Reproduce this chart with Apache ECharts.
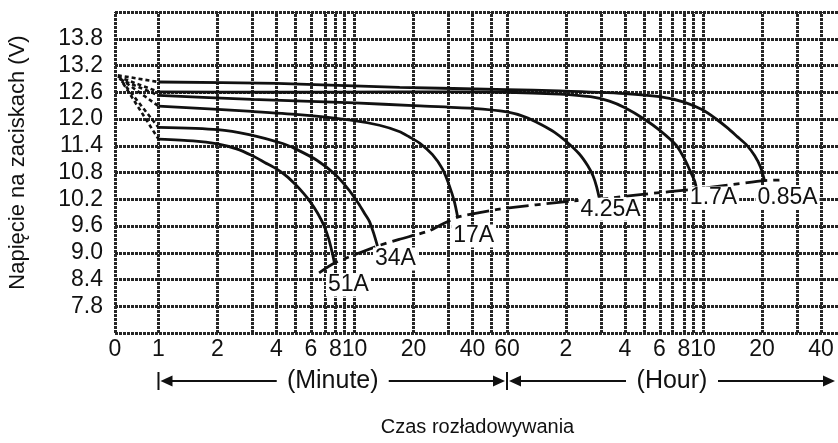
<!DOCTYPE html>
<html>
<head>
<meta charset="utf-8">
<script src="https://cdn.jsdelivr.net/npm/echarts@6/dist/echarts.min.js"></script>
<style>
  html, body { margin: 0; padding: 0; background: #ffffff; }
  #chart { width: 838px; height: 443px; }
</style>
</head>
<body>
<div id="chart"></div>
<script>
// Discharge curves of a 12 V battery: time in minutes, terminal voltage in volts.
const time51A = [1, 1.5, 2, 2.5, 3, 3.5, 4, 4.5, 5, 5.5, 6, 6.5, 7, 7.4, 7.7, 7.9];
const volt51A = [11.55, 11.51, 11.44, 11.33, 11.18, 11.02, 10.88, 10.72, 10.53, 10.33, 10.12, 9.88, 9.6, 9.3, 9.0, 8.77];

const time34A = [1, 2, 2.9, 4.3, 5, 6.4, 8, 9.4, 10.5, 11.3, 11.9, 12.5, 13.1];
const volt34A = [11.81, 11.76, 11.65, 11.45, 11.33, 11.08, 10.75, 10.4, 10.1, 9.87, 9.71, 9.45, 9.15];

const time17A = [1, 3, 5.2, 9.4, 13.4, 16.9, 19, 21.5, 25, 28.1, 30.5, 32.4, 33.6];
const volt17A = [12.29, 12.17, 12.1, 11.98, 11.86, 11.72, 11.6, 11.46, 11.2, 10.88, 10.5, 10.13, 9.8];

const time4_25A = [1, 3, 10, 20, 40, 60, 75, 90, 105, 120, 140, 155, 165, 172, 178];
const volt4_25A = [12.53, 12.44, 12.36, 12.3, 12.24, 12.16, 12.04, 11.87, 11.7, 11.5, 11.22, 10.95, 10.72, 10.48, 10.2];

const time1_7A = [1, 4, 17, 60, 111, 160, 200, 240, 300, 360, 440, 490, 520, 545, 556];
const volt1_7A = [12.61, 12.6, 12.61, 12.6, 12.56, 12.5, 12.4, 12.25, 12.0, 11.75, 11.4, 11.05, 10.8, 10.6, 10.43];

const time0_85A = [1, 4, 17, 60, 111, 240, 360, 480, 600, 700, 800, 900, 1000, 1100, 1180, 1236];
const volt0_85A = [12.83, 12.8, 12.71, 12.66, 12.63, 12.57, 12.5, 12.38, 12.2, 12.0, 11.8, 11.6, 11.42, 11.18, 10.92, 10.62];

// Initial voltage dip before the first minute (one entry per curve, same order as currentNames)
const currentNames = ['51A', '34A', '17A', '4.25A', '1.7A', '0.85A'];
const surgeTime = [0.66, 0.65, 0.64, 0.63, 0.62, 0.62];
const surgeVolt = [12.8, 12.85, 12.9, 12.9, 12.95, 12.98];

// Final discharge voltage line
const cutoffTime = [6.6, 7.9, 13.1, 16.9, 24, 28, 33.6, 55, 129, 178, 295, 556, 1236, 1527];
const cutoffVolt = [8.55, 8.77, 9.15, 9.3, 9.49, 9.64, 9.8, 9.98, 10.16, 10.2, 10.31, 10.43, 10.62, 10.63];

// Time axis (minutes, logarithmic) grid and labels
const gridMinutes = [0.6, 1, 2, 3, 4, 5, 6, 7, 8, 9, 10, 20, 30, 40, 50, 60,
                     120, 180, 240, 300, 360, 420, 480, 540, 600, 1200, 1800, 2400];
const tickMinutes = [0.6, 1, 2, 4, 6, 8, 10, 20, 40, 60, 120, 240, 360, 480, 600, 1200, 2400];
const tickLabels  = ['0', '1', '2', '4', '6', '8', '10', '20', '40', '60', '2', '4', '6', '8', '10', '20', '40'];
const timeMin = 0.6, timeMax = 3000;

// Voltage axis
const voltMin = 7.2, voltMax = 14.4, voltStep = 0.6;

const FONT = '"Liberation Sans", Arial, Helvetica, sans-serif';
const INK = '#111111';
const GRID_STYLE = { color: '#262626', width: 3, type: [3, 1], opacity: 1 };
const lg = Math.log10;

const curves = [
  [time51A, volt51A], [time34A, volt34A], [time17A, volt17A],
  [time4_25A, volt4_25A], [time1_7A, volt1_7A], [time0_85A, volt0_85A]
];
const toPoints = (ts, vs) => ts.map((t, i) => [lg(t), vs[i]]);

// label offsets (px) from the end of each curve
const labelOffsets = [[14, 22], [18, 13], [16, 19], [11, 10], [17, 9], [23, 17]];

const series = [];

// vertical grid lines on the log time axis
series.push({
  type: 'line', name: 'grid', data: [], z: 1, silent: true,
  markLine: {
    silent: true, symbol: ['none', 'none'], animation: false,
    label: { show: false },
    lineStyle: GRID_STYLE,
    data: gridMinutes.map(m => ({ xAxis: lg(m) }))
  }
});

curves.forEach(([ts, vs], i) => {
  series.push({
    type: 'line', name: currentNames[i], z: 5,
    data: toPoints(ts, vs),
    showSymbol: false, symbol: 'none', smooth: 0.25,
    lineStyle: { color: INK, width: 2.8 },
    animation: false
  });
  series.push({
    type: 'line', name: currentNames[i] + '-start', z: 5,
    data: [[lg(surgeTime[i]), surgeVolt[i]], [lg(ts[0]), vs[0]]],
    showSymbol: false, symbol: 'none',
    lineStyle: { color: INK, width: 2.6, type: [4, 3] },
    animation: false
  });
});

series.push({
  type: 'line', name: 'cutoff', z: 6,
  data: toPoints(cutoffTime, cutoffVolt),
  showSymbol: false, symbol: 'none', smooth: 0.2,
  lineStyle: { color: INK, width: 2.8, type: [22, 6, 6, 6] },
  animation: false
});

// current labels placed at the end of each curve
series.push({
  type: 'scatter', name: 'labels', z: 10, silent: true,
  symbolSize: 0,
  itemStyle: { opacity: 1 },
  data: curves.map(([ts, vs], i) => ({
    value: [lg(ts[ts.length - 1]), vs[vs.length - 1]],
    label: {
      show: true, position: 'inside', offset: labelOffsets[i],
      formatter: currentNames[i],
      color: INK, fontSize: 23, fontFamily: FONT,
      backgroundColor: '#ffffff', padding: [0, 2, 0, 2]
    }
  })),
  emphasis: { disabled: true },
  animation: false
});

const chart = echarts.init(document.getElementById('chart'), null, { renderer: 'canvas' });

const tickLabelFor = v => {
  for (let i = 0; i < tickMinutes.length; i++) {
    if (Math.abs(lg(tickMinutes[i]) - v) < 1e-6) return tickLabels[i];
  }
  return '';
};

chart.setOption({
  backgroundColor: '#ffffff',
  animation: false,
  grid: { left: 115, right: -2, top: 12, bottom: 110, outerBoundsMode: 'none', containLabel: false },
  xAxis: {
    type: 'value',
    min: lg(timeMin), max: lg(timeMax),
    name: 'Czas rozładowywania',
    nameLocation: 'middle', nameGap: 84,
    nameTextStyle: { fontSize: 20, color: INK, fontFamily: FONT },
    axisLine: { show: false },
    axisTick: { show: false },
    splitLine: { show: false },
    axisLabel: {
      customValues: tickMinutes.map(lg),
      formatter: tickLabelFor,
      fontSize: 23, color: INK, fontFamily: FONT, margin: 5
    }
  },
  yAxis: {
    type: 'value',
    min: voltMin, max: voltMax, interval: voltStep,
    name: 'Napięcie na zaciskach (V)',
    nameLocation: 'middle', nameGap: 86,
    nameTextStyle: { fontSize: 22, color: INK, fontFamily: FONT, padding: [0, 0, 0, 20] },
    axisLine: { show: false },
    axisTick: { show: false },
    axisLabel: {
      showMinLabel: false, showMaxLabel: false,
      formatter: v => v.toFixed(1),
      fontSize: 23, color: INK, fontFamily: FONT, margin: 12
    },
    splitLine: { show: true, lineStyle: GRID_STYLE }
  },
  series: series
});

// "(Minute)" and "(Hour)" span arrows under the time axis
function spanArrow(x0, x1, y, text) {
  const mid = (x0 + x1) / 2;
  const half = text === '(Minute)' ? 56 : 46;
  const lw = 2;
  const head = 12, hh = 5.5;
  return [
    { type: 'line', shape: { x1: x0 + head, y1: y, x2: mid - half, y2: y }, style: { stroke: INK, lineWidth: lw } },
    { type: 'line', shape: { x1: mid + half, y1: y, x2: x1 - head, y2: y }, style: { stroke: INK, lineWidth: lw } },
    { type: 'polygon', shape: { points: [[x0 + 1, y], [x0 + 1 + head, y - hh], [x0 + 1 + head, y + hh]] }, style: { fill: INK } },
    { type: 'polygon', shape: { points: [[x1 - 1, y], [x1 - 1 - head, y - hh], [x1 - 1 - head, y + hh]] }, style: { fill: INK } },
    { type: 'text', x: mid, y: y, style: { text: text, fill: INK, font: '25px ' + FONT, align: 'center', verticalAlign: 'middle' } }
  ];
}

const xPix = m => chart.convertToPixel({ xAxisIndex: 0 }, lg(m));
const rowY = 381;
const xOne = xPix(1), xHour = xPix(60), xEnd = xPix(timeMax) - 4;
const graphics = []
  .concat([{ type: 'line', shape: { x1: xOne, y1: rowY - 9, x2: xOne, y2: rowY + 9 }, style: { stroke: INK, lineWidth: 2 } }])
  .concat([{ type: 'line', shape: { x1: xHour, y1: rowY - 9, x2: xHour, y2: rowY + 9 }, style: { stroke: INK, lineWidth: 2 } }])
  .concat(spanArrow(xOne + 1, xHour - 1, rowY, '(Minute)'))
  .concat(spanArrow(xHour + 1, xEnd, rowY, '(Hour)'));

chart.setOption({ graphic: graphics.map(g => Object.assign({ silent: true, z: 100 }, g)) });
</script>
</body>
</html>
